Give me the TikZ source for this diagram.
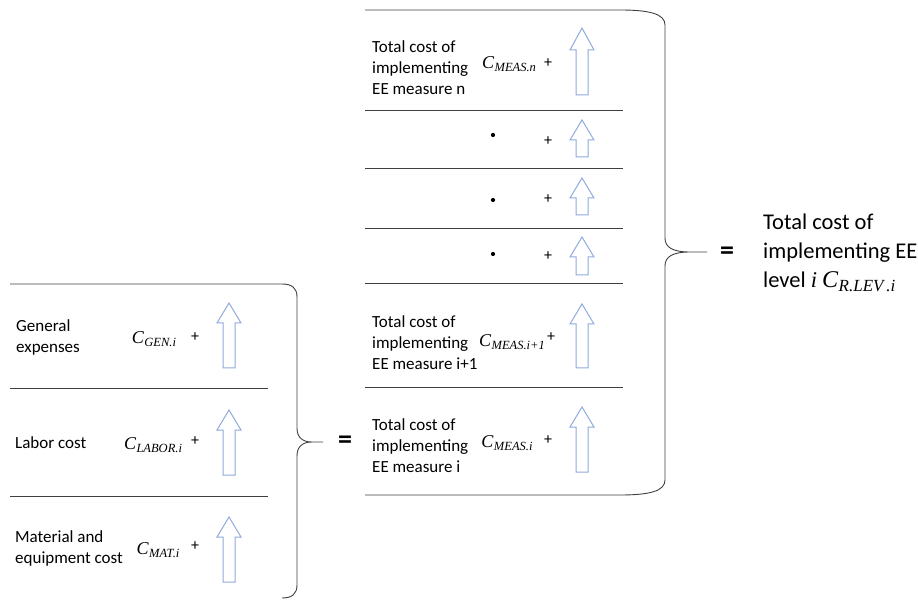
\documentclass[tikz,border=0pt]{standalone}
\usepackage{fontspec}
\setmainfont{Carlito}
\newfontfamily\cambriaish{Liberation Serif}
\definecolor{linegray}{HTML}{404040}
\definecolor{arrowblue}{HTML}{8FAADC}
\newcommand\hollowup[4]{%
  \draw[hollow] (#1-12,#3) -- (#1,#2) -- (#1+12,#3) -- (#1+6,#3) -- (#1+6,#4) -- (#1-6,#4) -- (#1-6,#3) -- cycle;}
\newcommand\cvar[1]{{\cambriaish\itshape\fontsize{18}{20}\selectfont C\kern0.5pt\raisebox{-3.5pt}{\fontsize{12.5}{14}\selectfont #1}}}
\begin{document}
\begin{tikzpicture}[x=1pt,y=-1pt,
  rule/.style={draw=linegray, line width=0.9pt},
  hollow/.style={draw=arrowblue, line width=1pt, fill=white, line join=miter},
  lbl/.style={anchor=west, inner sep=0, align=left, font=\fontsize{17}{21}\selectfont},
  sym/.style={inner sep=0, font=\fontsize{16}{21}\selectfont},
  dotmark/.style={circle, fill=black, inner sep=0, minimum size=4.2pt},
  eqsign/.style={inner sep=0, font=\fontsize{28}{30}\selectfont\bfseries},
  big/.style={anchor=west, inner sep=0, align=left, font=\fontsize{22.5}{29}\selectfont}]
\useasboundingbox (0,0) rectangle (918,601);

% ---------- left group ----------
\node[lbl] (gen) at (16,337) {General\\expenses};
\node[sym] (cgen) at (154,339) {\cvar{GEN.i}};
\node[sym] (pgen) at (195,337) {+};
\hollowup{229}{303}{323}{368}
\draw[rule] (10,388) -- (268,388);
\node[lbl] (lab) at (15,443) {Labor cost};
\node[sym] (clab) at (153,445) {\cvar{LABOR.i}};
\node[sym] (plab) at (195,441) {+};
\hollowup{229}{410}{430}{475}
\draw[rule] (10,496) -- (268,496);
\node[lbl] (mat) at (15,548) {Material and\\equipment cost};
\node[sym] (cmat) at (158,550) {\cvar{MAT.i}};
\node[sym] (pmat) at (195,546) {+};
\hollowup{229}{517}{537}{582}
% left brace
\draw[rule] (10,284) -- (282,284) .. controls (292,284) and (297,288) .. (297,297)
  -- (297,428) .. controls (297,437) and (302,442) .. (312,442) -- (323,442)
  -- (312,442) .. controls (302,442) and (297,447) .. (297,456)
  -- (297,585) .. controls (297,594) and (292,598) .. (282,598);
\node[eqsign] (eq1) at (345,442) {=};

% ---------- right group ----------
\node[lbl] (mn) at (372,68) {Total cost of\\implementing\\EE measure n};
\node[sym] (cmn) at (509,64) {\cvar{MEAS.n}};
\node[sym] (pmn) at (548,63) {+};
\hollowup{582}{28}{50}{95}
\draw[rule] (365,110) -- (623,110);
\node[dotmark] (d1) at (493,135) {};
\node[sym] (p1) at (548,141) {+};
\hollowup{582}{120}{140}{157}
\draw[rule] (365,168) -- (623,168);
\node[dotmark] (d2) at (493,200) {};
\node[sym] (p2) at (548,199) {+};
\hollowup{582}{178}{198}{215}
\draw[rule] (365,228) -- (623,228);
\node[dotmark] (d3) at (493,254) {};
\node[sym] (p3) at (548,256) {+};
\hollowup{582}{237}{257}{275}
\draw[rule] (365,283) -- (623,283);
\node[lbl] (mi1) at (372,343) {Total cost of\\implementing\\EE measure i+1};
\node[sym] (cmi1) at (512,342) {\cvar{MEAS.i+1}};
\node[sym] (pmi1) at (551,337) {+};
\hollowup{582}{304}{324}{368}
\draw[rule] (365,387) -- (623,387);
\node[lbl] (mi) at (372,446) {Total cost of\\implementing\\EE measure i};
\node[sym] (cmi) at (507,443) {\cvar{MEAS.i}};
\node[sym] (pmi) at (548,440) {+};
\hollowup{582}{407}{427}{472}
% right brace
\draw[rule] (365,10) -- (620,10) .. controls (650,10) and (665,14) .. (665,25)
  -- (665,238) .. controls (665,247) and (672,252) .. (690,252) -- (707,252)
  -- (690,252) .. controls (672,252) and (665,257) .. (665,266)
  -- (665,480) .. controls (665,491) and (650,495) .. (620,495) -- (365,495);
\node[eqsign] (eq2) at (727,253) {=};
\node[big] (total) at (763,253) {Total cost of\\implementing EE\\level {\cambriaish\itshape i} {\cambriaish\itshape\fontsize{24}{26}\selectfont C\kern0.5pt\raisebox{-4.5pt}{\fontsize{17}{18}\selectfont R.LEV\,.i}}};
\end{tikzpicture}
\end{document}
